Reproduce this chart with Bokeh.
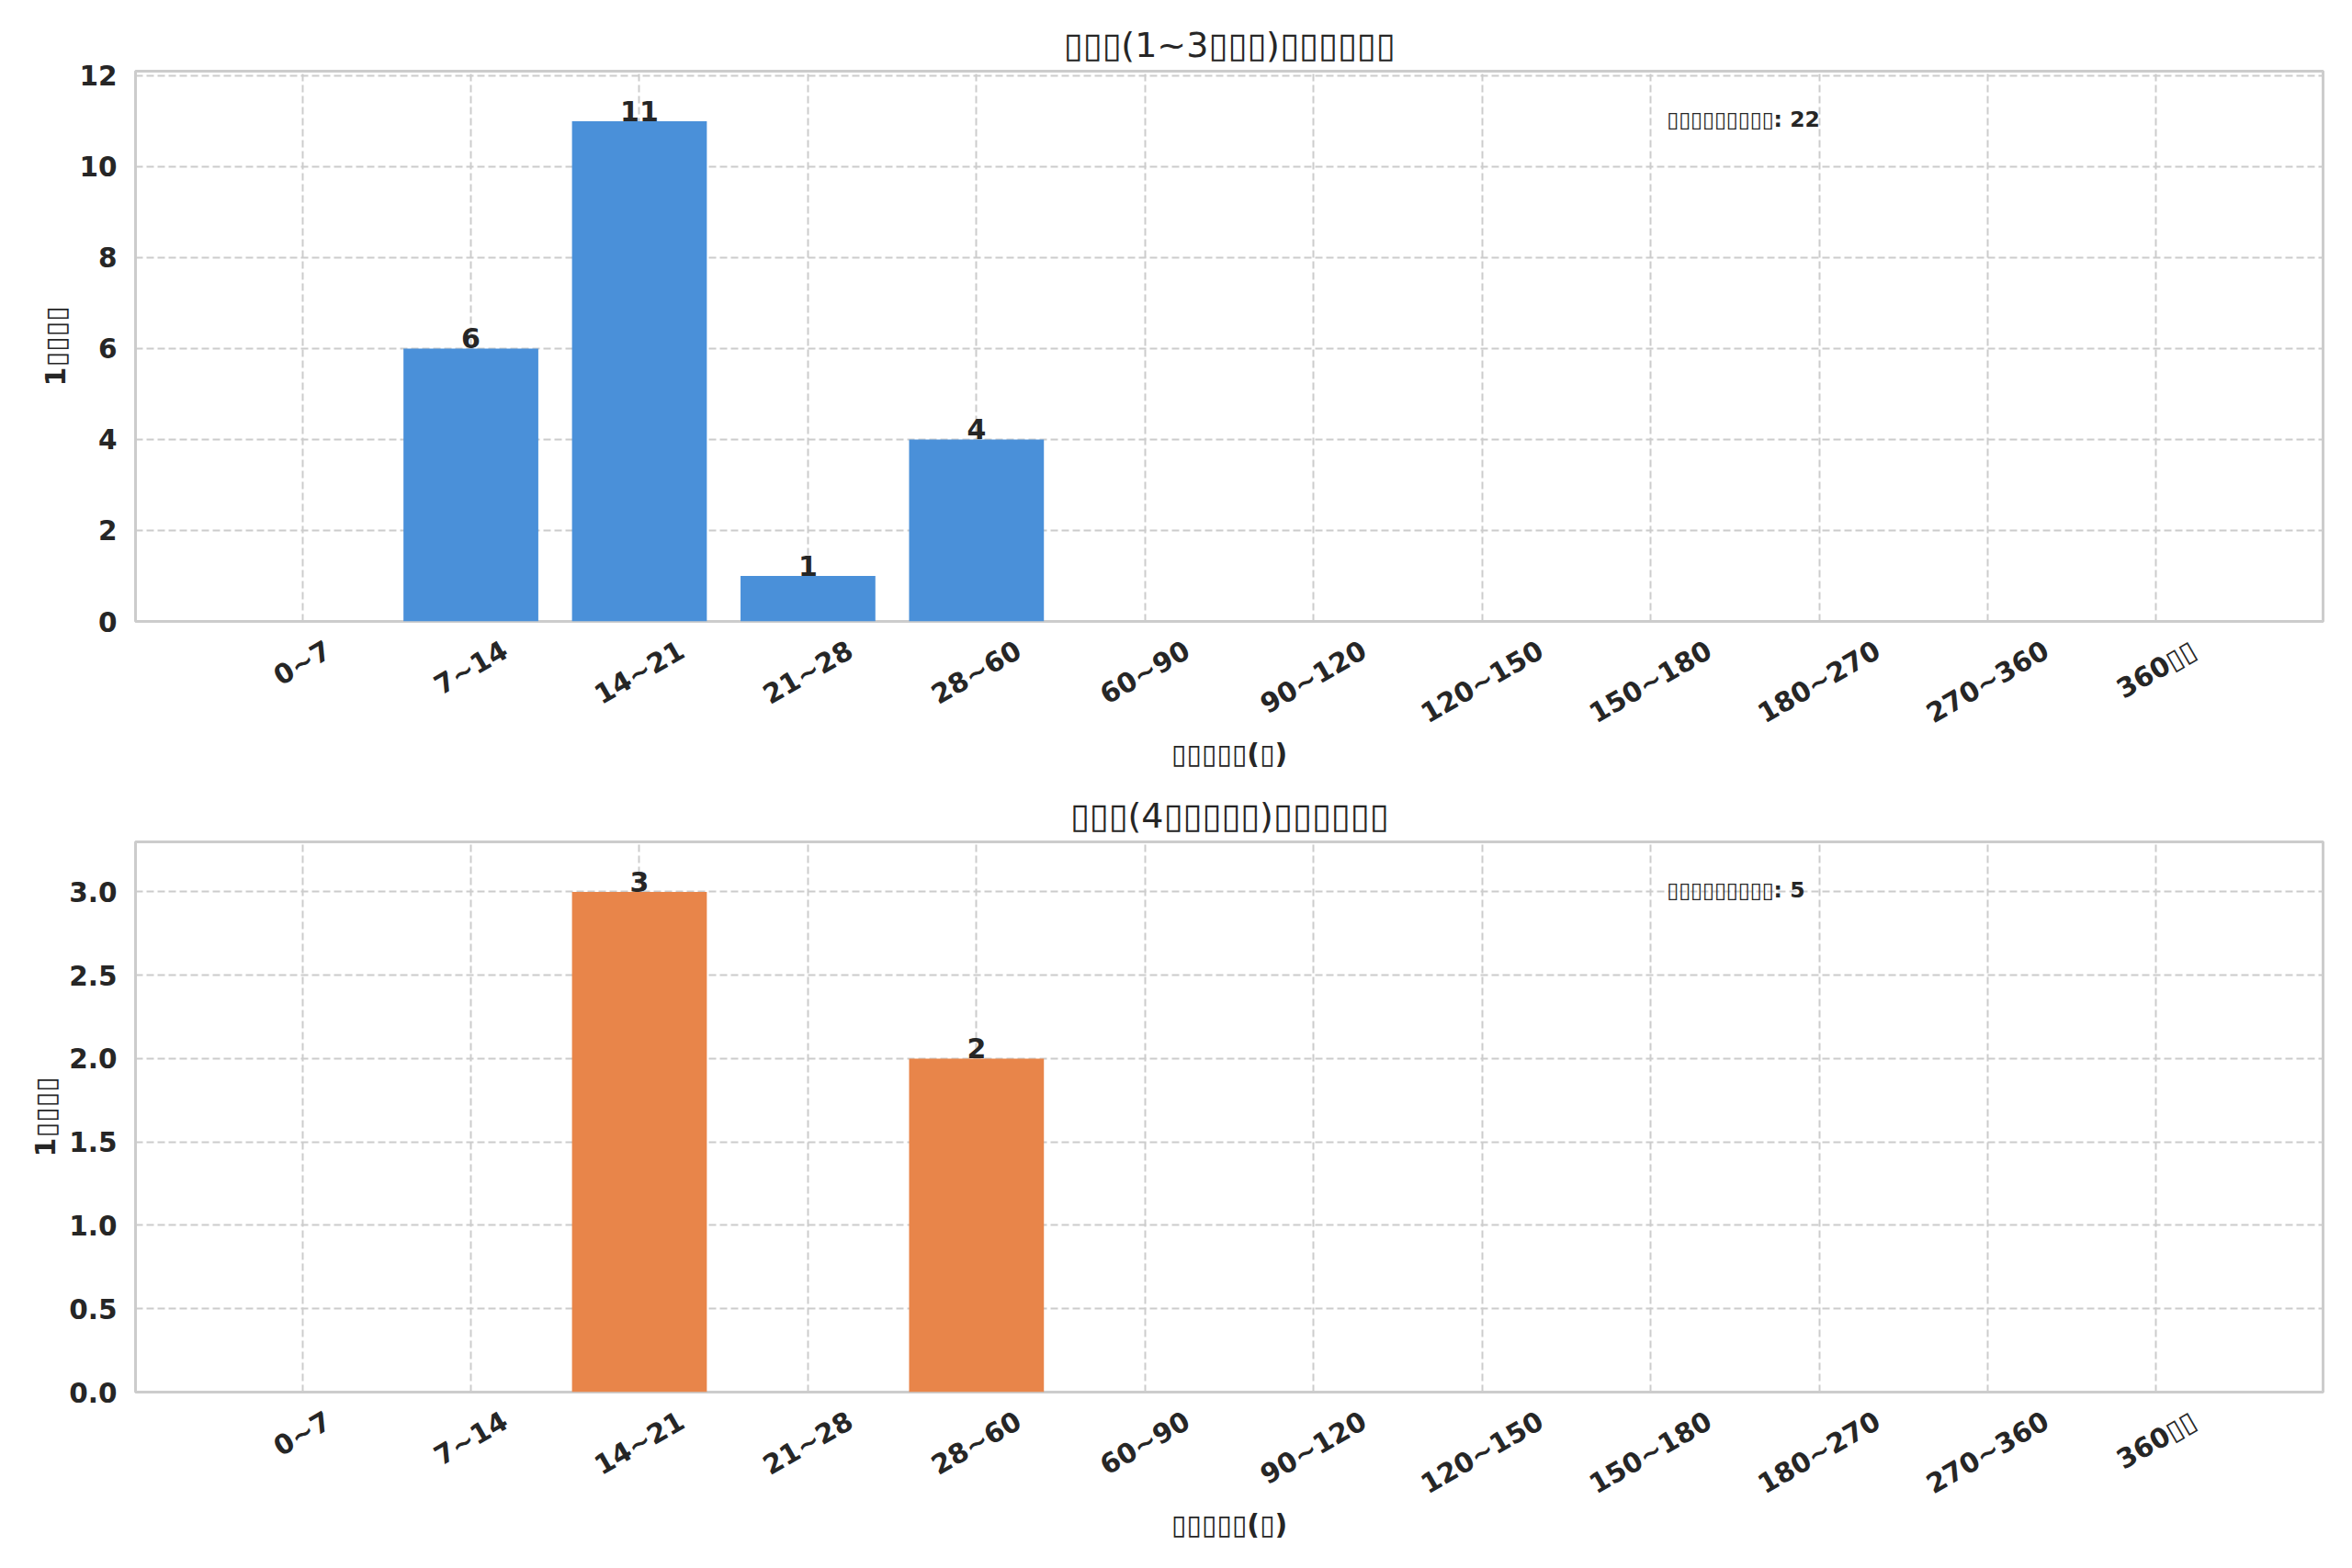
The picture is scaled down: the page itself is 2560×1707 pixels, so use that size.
import math
from bokeh.plotting import figure
from bokeh.models import ColumnDataSource, Range1d, FixedTicker, Label, PrintfTickFormatter
from bokeh.layouts import column
from bokeh.embed import file_html
from bokeh.resources import INLINE
from bokeh.core.properties import value

# ---------------- data ----------------
categories = ["0~7", "7~14", "14~21", "21~28", "28~60", "60~90", "90~120",
              "120~150", "150~180", "180~270", "270~360", "360▯▯"]
low_counts = [0, 6, 11, 1, 4, 0, 0, 0, 0, 0, 0, 0]
high_counts = [0, 0, 3, 0, 2, 0, 0, 0, 0, 0, 0, 0]
title_low = "▯▯▯(1~3▯▯▯)▯▯▯▯▯▯"
title_high = "▯▯▯(4▯▯▯▯▯)▯▯▯▯▯▯"
x_label = "▯▯▯▯▯(▯)"
y_label = "1▯▯▯▯"
note_prefix = "▯▯▯▯▯▯▯▯▯: "
low_color = "#4A90D9"
high_color = "#E8854A"

FONT = "DejaVu Sans"
TXT = "#262626"
GRID = "#cccccc"
TICK_FS = 29.5
FRAME_W = 2381
ADV = {"~": 0.838, "▯": 0.56}


def text_len(s, fs):
    return sum(ADV.get(c, 0.696) for c in s) * fs


def make_panel(counts, color, title, y_fmt=None, y_ticks=None):
    n = len(categories)
    xs = list(range(n))
    lo, hi = -0.4, n - 1 + 0.4
    pad = 0.05 * (hi - lo)
    x0, x1 = lo - pad, hi + pad
    ymax = max(counts) * 1.1
    ppu = FRAME_W / (x1 - x0)

    p = figure(frame_width=FRAME_W, frame_height=599,
               x_range=Range1d(x0, x1), y_range=Range1d(0, ymax),
               output_backend="svg", toolbar_location=None,
               min_border_left=147, min_border_right=16,
               min_border_top=77, min_border_bottom=150,
               background_fill_color="white", border_fill_color="white")
    p.title.text = title
    p.title.align = "center"
    p.title.text_font = FONT
    p.title.text_font_size = "38px"
    p.title.text_font_style = "normal"
    p.title.text_color = TXT
    p.title.standoff = 14

    p.outline_line_color = GRID
    p.outline_line_width = 3

    src = ColumnDataSource(dict(x=xs, top=counts))
    p.vbar(x="x", top="top", width=0.8, bottom=0, source=src,
           fill_color=color, line_color=None)

    lab = ColumnDataSource(dict(
        x=[x for x, c in zip(xs, counts) if c > 0],
        y=[c for c in counts if c > 0],
        t=[str(c) for c in counts if c > 0]))
    p.text(x="x", y="y", text="t", source=lab, text_align="center",
           text_baseline="bottom", text_font=value(FONT),
           text_font_size="30px", text_font_style="bold", text_color=TXT)

    # grid
    p.xgrid.ticker = FixedTicker(ticks=xs)
    for g in (p.xgrid, p.ygrid):
        g.grid_line_color = GRID
        g.grid_line_dash = "8 4"
        g.grid_line_width = 2

    # x axis: rotated labels are right-anchored in Bokeh, so the anchor
    # ticks are shifted so that each label's centre sits on its category
    ang = math.pi / 6
    tick_pos, overrides = [], {}
    for x, c in zip(xs, categories):
        t = x + 0.5 * text_len(c, TICK_FS) * math.cos(ang) / ppu
        tick_pos.append(t)
        overrides[t] = c
    xa = p.xaxis[0]
    xa.ticker = FixedTicker(ticks=tick_pos)
    xa.major_label_overrides = overrides
    xa.major_label_orientation = ang
    xa.major_label_standoff = 29
    xa.major_label_text_font = FONT
    xa.major_label_text_font_size = f"{TICK_FS}px"
    xa.major_label_text_font_style = "bold"
    xa.major_label_text_color = TXT
    xa.axis_line_color = None
    xa.major_tick_line_color = None
    xa.minor_tick_line_color = None
    xa.major_tick_out = 0
    xa.major_tick_in = 0
    xa.axis_label = x_label
    xa.axis_label_text_font = FONT
    xa.axis_label_text_font_size = "30px"
    xa.axis_label_text_font_style = "bold"
    xa.axis_label_text_color = TXT
    xa.axis_label_standoff = -9

    # y axis
    ya = p.yaxis[0]
    if y_ticks is not None:
        ya.ticker = FixedTicker(ticks=y_ticks)
    if y_fmt is not None:
        ya.formatter = PrintfTickFormatter(format=y_fmt)
    ya.axis_line_color = None
    ya.major_tick_line_color = None
    ya.minor_tick_line_color = None
    ya.major_tick_out = 0
    ya.major_tick_in = 0
    ya.major_label_standoff = 20
    ya.major_label_text_font = FONT
    ya.major_label_text_font_size = f"{TICK_FS}px"
    ya.major_label_text_font_style = "bold"
    ya.major_label_text_color = TXT
    ya.axis_label = y_label
    ya.axis_label_text_font = FONT
    ya.axis_label_text_font_size = "30px"
    ya.axis_label_text_font_style = "bold"
    ya.axis_label_text_color = TXT
    ya.axis_label_standoff = 5

    # note
    p.add_layout(Label(x=x0 + 0.7 * (x1 - x0), y=0.912 * ymax,
                       text=note_prefix + str(sum(counts)),
                       text_align="left", text_baseline="middle",
                       text_font=FONT, text_font_size="23.5px",
                       text_font_style="bold", text_color=TXT))
    return p


p1 = make_panel(low_counts, low_color, title_low,
                y_ticks=[0, 2, 4, 6, 8, 10, 12])
p2 = make_panel(high_counts, high_color, title_high, y_fmt="%.1f",
                y_ticks=[0, 0.5, 1.0, 1.5, 2.0, 2.5, 3.0])
p2.min_border_top = 76

layout = column(p1, p2, spacing=0)
open("out.html", "w").write(file_html(layout, INLINE))
